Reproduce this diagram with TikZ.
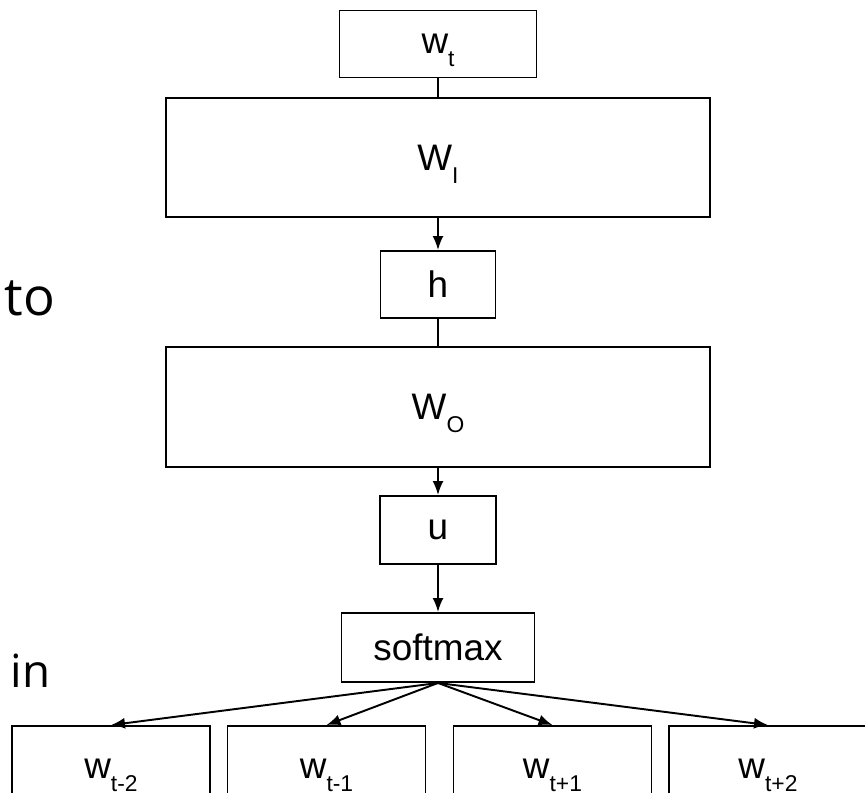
\documentclass[tikz,border=0pt]{standalone}
\usepackage{fontspec}
\setmainfont{Liberation Sans}
\newfontfamily\slidefont{Open Sans}
\usetikzlibrary{arrows.meta}
\newcommand{\lsub}[1]{\raisebox{-7.5pt}[0pt][0pt]{\fontsize{13}{15}\selectfont #1}}

\begin{document}
\begin{tikzpicture}[x=0.02cm, y=-0.02cm, line width=1.1pt,
	box/.style={draw, inner sep=0pt, font=\fontsize{21}{25}\selectfont},
	arr/.style={-{Latex[length=0.28cm, width=0.22cm]}}]
	\clip (0, 0) rectangle (865, 792);
	% slide text behind the picture
	\node (to) at (4, 315) [anchor=base west, inner sep=0pt, font=\slidefont\fontsize{30}{36}\selectfont] {to};
	\node (in) at (10, 687) [anchor=base west, inner sep=0pt, font=\slidefont\fontsize{26}{31}\selectfont] {in};
	% network
	\node (wt) at (438, 44) [box, minimum width=3.94cm, minimum height=1.34cm] {w\lsub{t}};
	\node (WI) at (438, 157.5) [box, minimum width=10.88cm, minimum height=2.38cm] {W\lsub{I}};
	\node (h) at (438, 284.5) [box, minimum width=2.3cm, minimum height=1.34cm] {h};
	\node (WO) at (438, 407) [box, minimum width=10.88cm, minimum height=2.4cm] {W\lsub{O}};
	\node (u) at (438, 530) [box, minimum width=2.32cm, minimum height=1.36cm] {u};
	\node (softmax) at (438, 647.5) [box, minimum width=3.86cm, minimum height=1.38cm] {softmax};
	\node (wm2) at (111, 769) [box, minimum width=3.96cm, minimum height=1.72cm] {w\lsub{t-2}};
	\node (wm1) at (326.5, 769) [box, minimum width=3.96cm, minimum height=1.72cm] {w\lsub{t-1}};
	\node (wp1) at (552.5, 769) [box, minimum width=3.96cm, minimum height=1.72cm] {w\lsub{t+1}};
	\node (wp2) at (768, 769) [box, minimum width=3.96cm, minimum height=1.72cm] {w\lsub{t+2}};
	\draw (wt) -- (WI);
	\draw[arr] (WI) -- (h);
	\draw (h) -- (WO);
	\draw[arr] (WO) -- (u);
	\draw[arr] (u) -- (softmax);
	\foreach \w in {wm2, wm1, wp1, wp2}
		\draw[arr] (softmax.south) -- (\w.north);
\end{tikzpicture}
\end{document}
